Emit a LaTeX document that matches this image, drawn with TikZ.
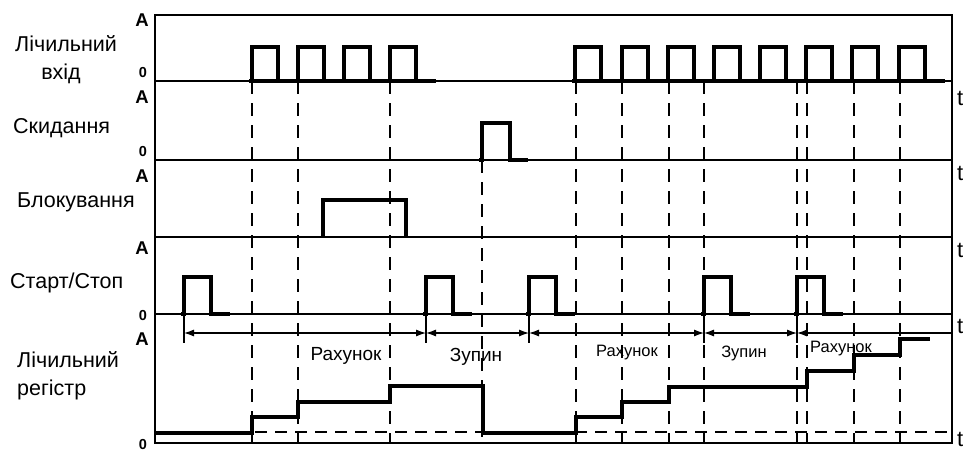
\documentclass[tikz,border=0pt]{standalone}
\usepackage{fontspec}
\setmainfont{Liberation Sans}
\usetikzlibrary{arrows.meta}
\begin{document}
\begin{tikzpicture}[x=1pt,y=-1pt,
  frameline/.style={line width=1.5pt},
  thinline/.style={line width=1.3pt},
  sig/.style={line width=3.2pt, line join=miter, line cap=butt},
  guide/.style={line width=1.2pt, dash pattern=on 13pt off 9pt},
  hguide/.style={line width=1.2pt, dash pattern=on 12pt off 8pt},
  tick/.style={line width=1.5pt},
  dimarrow/.style={line width=1.1pt, {Latex[length=10pt,width=7pt]}-{Latex[length=10pt,width=7pt]}},
  lbl/.style={font=\fontsize{21.5}{28}\selectfont, inner sep=0pt},
  ax/.style={font=\bfseries\fontsize{18.5}{18.5}\selectfont, inner sep=0pt},
  zero/.style={font=\bfseries\fontsize{14.5}{14.5}\selectfont, inner sep=0pt},
  tl/.style={font=\fontsize{22}{22}\selectfont, inner sep=0pt, anchor=base west},
  big/.style={font=\fontsize{19}{19}\selectfont, inner sep=0pt, anchor=base},
  small/.style={font=\fontsize{16.5}{16.5}\selectfont, inner sep=0pt, anchor=base},
]
\useasboundingbox (0,0) rectangle (964,452);

% guides
\foreach \x in {252,298,390,576,622,669,704,797,807,854,900}
  \draw[guide] (\x,81) -- (\x,443);
\draw[guide] (482,160) -- (482,443);
\draw[hguide] (155,432) -- (952,432);

% frame and baselines
\draw[frameline] (155,15) rectangle (952,443);
\foreach \y in {81,160,237,314}
  \draw[thinline] (155,\y) -- (952,\y);

% channel 1: counting input
\draw[sig] (249,81) -- (436,81);
\foreach \r in {252,298,344,390}
  \draw[sig] (\r,81) -- (\r,47) -- ({\r+26},47) -- ({\r+26},81);
\draw[sig] (572,81) -- (945,81);
\foreach \r in {575,622,668,714,760,806,852,899}
  \draw[sig] (\r,81) -- (\r,47) -- ({\r+26},47) -- ({\r+26},81);

% channel 2: reset
\draw[sig] (479,160) -- (482,160) -- (482,123) -- (510,123) -- (510,160) -- (528,160);

% channel 3: blocking
\draw[sig] (323,237) -- (323,200) -- (406,200) -- (406,237);

% channel 4: start/stop
\foreach \r in {184,426,529,704,797} {
  \draw[sig] ({\r-3},314) -- (\r,314) -- (\r,277) -- ({\r+27},277) -- ({\r+27},314) -- ({\r+46},314);
  \draw[tick] (\r,314) -- (\r,343);
}

% interval arrows
\coordinate (m1) at (184,333);
\coordinate (m2) at (426,333);
\coordinate (m3) at (529,333);
\coordinate (m4) at (704,333);
\coordinate (m5) at (797,333);
\coordinate (mend) at (952,333);
\draw[dimarrow] (m1) -- (m2);
\draw[dimarrow] (m2) -- (m3);
\draw[dimarrow] (m3) -- (m4);
\draw[dimarrow] (m4) -- (m5);
\draw[line width=1.1pt, {Latex[length=10pt,width=7pt]}-] (m5) -- (mend);

% counting register
\draw[sig] (155,433) -- (252,433) -- (252,417) -- (298,417) -- (298,402) -- (390,402)
  -- (390,386) -- (483,386) -- (483,433) -- (576,433) -- (576,417) -- (622,417)
  -- (622,402) -- (669,402) -- (669,387) -- (807,387) -- (807,371) -- (854,371)
  -- (854,355) -- (900,355) -- (900,339) -- (930,339);

% left labels
\node[lbl, anchor=base west] (l1a) at (15,52) {Лічильний};
\node[lbl, anchor=base] (l1b) at (61,80) {вхід};
\node[lbl, anchor=base west] (l2) at (13,133) {Скидання};
\node[lbl, anchor=base west] (l3) at (17,207) {Блокування};
\node[lbl, anchor=base west] (l4) at (10,288) {Старт/Стоп};
\node[lbl, anchor=base west] (l5a) at (17,367) {Лічильний};
\node[lbl, anchor=base west] (l5b) at (17,395) {регістр};

% axis labels
\node[ax] (a1) at (142,20) {A};
\node[zero] (z01) at (143,73) {0};
\node[ax] (a2) at (142,97) {A};
\node[zero] (z02) at (143,152) {0};
\node[ax] (a3) at (142,176) {A};
\node[ax] (a4) at (142,248) {A};
\node[zero] (z04) at (143,316) {0};
\node[ax] (a5) at (142,339) {A};
\node[zero] (z05) at (143,445) {0};

% time labels
\node[tl] (t1) at (957,105) {t};
\node[tl] (t2) at (957,180) {t};
\node[tl] (t3) at (957,257) {t};
\node[tl] (t4) at (957,333) {t};
\node[tl] (t5) at (957,446) {t};

% interval labels
\node[big] (c1) at (346,360) {Рахунок};
\node[big] (s1) at (476,361) {Зупин};
\node[small] (c2) at (627,356) {Рахунок};
\node[small] (s2) at (744,357) {Зупин};
\node[small] (c3) at (841,352) {Рахунок};
\end{tikzpicture}
\end{document}
